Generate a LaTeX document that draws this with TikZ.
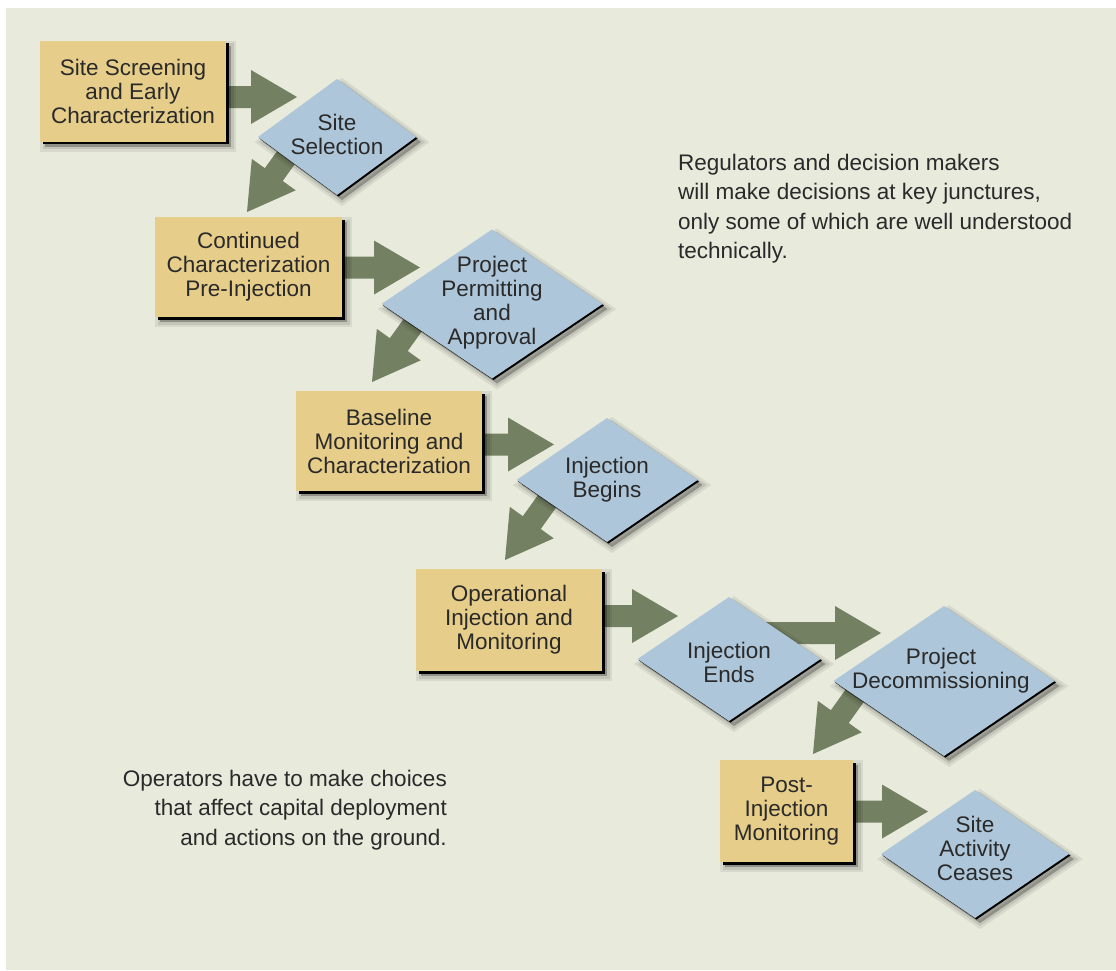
\documentclass[tikz,border=0pt]{standalone}
\usepackage{fontspec}
\setmainfont{Liberation Sans}
\usetikzlibrary{shapes.geometric,calc,shadows}
\definecolor{panelc}{HTML}{E8EADC}
\definecolor{boxc}{HTML}{E6CD89}
\definecolor{diac}{HTML}{AEC6D9}
\definecolor{arrc}{HTML}{748062}
\definecolor{txtc}{HTML}{2A2A2A}
\pgfdeclarelayer{bg}
\pgfsetlayers{bg,main}
\newcommand\blockarrow[2]{%
  \path ($(#2)!46pt!(#1)$) coordinate (hb);
  \fill[arrowfill] ($(#1)!11pt!90:(#2)$) -- ($(hb)!11pt!-90:(#1)$) -- ($(hb)!27pt!-90:(#1)$) -- (#2)
    -- ($(hb)!27pt!90:(#1)$) -- ($(hb)!11pt!90:(#1)$) -- ($(#1)!11pt!-90:(#2)$) -- cycle;}
\begin{document}
\begin{tikzpicture}[x=1pt,y=-1pt,
  softshadow/.style={
    general shadow={fill=black, fill opacity=0.07, draw=black, draw opacity=0.07, line width=10pt, shadow xshift=5pt, shadow yshift=-5pt},
    general shadow={fill=black, fill opacity=0.09, draw=black, draw opacity=0.09, line width=5pt, shadow xshift=5pt, shadow yshift=-5pt},
    general shadow={fill=black, fill opacity=0.12, shadow xshift=5pt, shadow yshift=-5pt}},
  stagebox/.style={rectangle, fill=boxc, inner sep=0pt, align=center, text=txtc,
    font=\fontsize{22.5}{24}\selectfont, softshadow,
    general shadow={fill=black, shadow xshift=2.5pt, shadow yshift=-2.5pt}},
  decision/.style={diamond, fill=diac, inner sep=0pt, outer sep=0pt, softshadow,
    general shadow={fill=black, shadow xshift=1.5pt, shadow yshift=-1.5pt}},
  dlabel/.style={text=txtc, align=center, inner sep=0pt, font=\fontsize{22.5}{24}\selectfont},
  note/.style={text=txtc, inner sep=0pt, font=\fontsize{22.5}{29.5}\selectfont},
  arrowfill/.style={fill=arrc}]
\useasboundingbox (0,0) rectangle (1116,970);
\begin{pgfonlayer}{bg}
\fill[white] (0,0) rectangle (1116,970);
\fill[panelc] (6,8) rectangle (1116,970);
\end{pgfonlayer}

% stages
\node[stagebox, minimum width=186pt, minimum height=101pt] (b1) at (133,91) {Site Screening\\and Early\\Characterization};
\node[stagebox, minimum width=187pt, minimum height=100pt] (b2) at (248.5,267) {Continued\\Characterization\\Pre-Injection};
\node[stagebox, minimum width=186pt, minimum height=100pt] (b3) at (389,441) {Baseline\\Monitoring and\\Characterization};
\node[stagebox, minimum width=186pt, minimum height=102pt] (b4) at (509,620) {Operational\\Injection and\\Monitoring};
\node[stagebox, minimum width=133pt, minimum height=102pt] (b5) at (786.5,811) {Post-\\Injection\\Monitoring};

% decisions
\node[decision, minimum width=158pt, minimum height=116pt] (d1) at (337,137) {};
\node[decision, minimum width=221pt, minimum height=149pt] (d2) at (492,304) {};
\node[decision, minimum width=181pt, minimum height=124pt] (d3) at (607,480) {};
\node[decision, minimum width=183pt, minimum height=124pt] (d4) at (729,659) {};
\node[decision, minimum width=221pt, minimum height=150pt] (d5) at (944,681) {};
\node[decision, minimum width=188pt, minimum height=128pt] (d6) at (975,854) {};

\node[dlabel] (d1t) at (337,134) {Site\\Selection};
\node[dlabel] (d2t) at (492,303) {Project\\Permitting\\and\\Approval};
\node[dlabel] (d3t) at (607,480) {Injection\\Begins};
\node[dlabel] (d4t) at (729,662) {Injection\\Ends};
\node[dlabel] (d5t) at (941,670.5) {Project\\Decommissioning};
\node[dlabel] (d6t) at (975,848) {Site\\Activity\\Ceases};

% notes
\node[note, anchor=north west, align=left] (reg) at (678,153.5) {Regulators and decision makers\\will make decisions at key junctures,\\only some of which are well understood\\technically.};
\node[note, anchor=north east, align=right] (ops) at (447,769.5) {Operators have to make choices\\that affect capital deployment\\and actions on the ground.};

% arrow ends
\coordinate (t1) at (297,97);     \coordinate (s1) at (b1.center |- t1);
\coordinate (t2) at (247,212);    \coordinate (s2) at ($(t2)+(58,-81)$);
\coordinate (t3) at (420,267.5);  \coordinate (s3) at (b2.center |- t3);
\coordinate (t4) at (372,382);    \coordinate (s4) at ($(t4)+(58,-81)$);
\coordinate (t5) at (554,444.5);  \coordinate (s5) at (b3.center |- t5);
\coordinate (t6) at (505,560);    \coordinate (s6) at ($(t6)+(58,-81)$);
\coordinate (t7) at (678,616);    \coordinate (s7) at (b4.center |- t7);
\coordinate (t8) at (881,633);    \coordinate (s8) at (d4.center |- t8);
\coordinate (t9) at (813,754);    \coordinate (s9) at ($(t9)+(58,-81)$);
\coordinate (t10) at (928,811.5); \coordinate (s10) at (b5.center |- t10);

\begin{pgfonlayer}{bg}
\blockarrow{s1}{t1}
\blockarrow{s2}{t2}
\blockarrow{s3}{t3}
\blockarrow{s4}{t4}
\blockarrow{s5}{t5}
\blockarrow{s6}{t6}
\blockarrow{s7}{t7}
\blockarrow{s8}{t8}
\blockarrow{s9}{t9}
\blockarrow{s10}{t10}
\end{pgfonlayer}
\end{tikzpicture}
\end{document}
